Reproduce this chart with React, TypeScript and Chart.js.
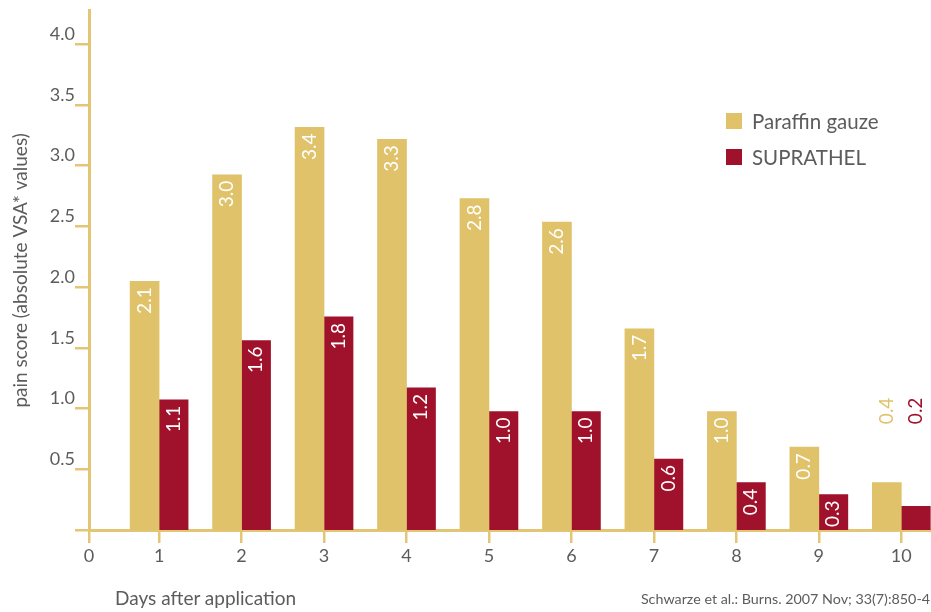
import React, { useEffect, useRef } from "react";
import { Chart, registerables } from "chart.js";

Chart.register(...registerables);

// ---- data ----
const days = [1, 2, 3, 4, 5, 6, 7, 8, 9, 10];
const paraffinValues = [2.1, 3.0, 3.4, 3.3, 2.8, 2.6, 1.7, 1.0, 0.7, 0.4];
const suprathelValues = [1.1, 1.6, 1.8, 1.2, 1.0, 1.0, 0.6, 0.4, 0.3, 0.2];
const seriesNames = ["Paraffin gauze", "SUPRATHEL"];
const originLabel = "0";
const xAxisTitle = "Days after application";
const yAxisTitle = "pain score (absolute VSA* values)";
const citation = "Schwarze et al.: Burns. 2007 Nov; 33(7):850-4";
const outsideLabelDays = [10];

// ---- style ----
const GOLD = "#E0C26A";
const RED = "#A0112B";
const AXIS = "#E3C675";
const TEXT = "#5c5c5c";
const FONT = "Lato, 'Open Sans', sans-serif";
const seriesColors = [GOLD, RED];

const X_MIN = 0.15;
const X_MAX = 10.36;
const Y_MAX = 4.275;
const BAR_SCALE_MAX = 4.385;
const OUTSIDE_LABEL_LEVEL = 1.09;

const barLabelPlugin = {
  id: "barLabels",
  afterDatasetsDraw(chart: any) {
    const ctx = chart.ctx;
    const yScale = chart.scales.y;
    const area = chart.chartArea;
    const seriesValues = [paraffinValues, suprathelValues];
    chart.data.datasets.forEach((ds: any, di: number) => {
      const meta = chart.getDatasetMeta(di);
      meta.data.forEach((bar: any, i: number) => {
        const v = seriesValues[di][i];
        const outside = outsideLabelDays.includes(days[i]);
        const yTop = outside ? yScale.getPixelForValue(OUTSIDE_LABEL_LEVEL) : bar.y + 6;
        const x = Math.min(bar.x, area.right - 13);
        ctx.save();
        ctx.translate(x, yTop);
        ctx.rotate(-Math.PI / 2);
        ctx.font = `19px ${FONT}`;
        ctx.fillStyle = outside ? seriesColors[di] : "#ffffff";
        ctx.textAlign = "right";
        ctx.textBaseline = "middle";
        ctx.fillText(v.toFixed(1), 0, 0);
        ctx.restore();
      });
    });
  },
};

export default function App() {
  const canvasRef = useRef<HTMLCanvasElement | null>(null);

  useEffect(() => {
    document.body.style.margin = "0";
    const canvas = canvasRef.current;
    if (!canvas) return;
    const chart = new Chart(canvas, {
      type: "bar",
      data: {
        datasets: [
          {
            label: seriesNames[0],
            data: days.map((d, i) => ({ x: d, y: paraffinValues[i] })),
            backgroundColor: GOLD,
            borderWidth: 0,
            yAxisID: "yb",
            barThickness: 29,
          },
          {
            label: seriesNames[1],
            data: days.map((d, i) => ({ x: d, y: suprathelValues[i] })),
            backgroundColor: RED,
            borderWidth: 0,
            yAxisID: "yb",
            barThickness: 29,
          },
        ] as any,
      },
      options: {
        animation: false,
        responsive: true,
        maintainAspectRatio: false,
        layout: { padding: { top: 10, left: 0, right: 0, bottom: 0 } },
        plugins: {
          legend: { display: false },
          tooltip: { enabled: false },
        },
        scales: {
          x: {
            type: "linear",
            min: X_MIN,
            max: X_MAX,
            offset: false,
            afterFit: (s: any) => {
              s.height = 82;
            },
            afterBuildTicks: (s: any) => {
              s.ticks = [{ value: X_MIN }, ...days.map((d) => ({ value: d }))];
            },
            ticks: {
              autoSkip: false,
              maxRotation: 0,
              padding: 2,
              color: TEXT,
              font: { family: FONT, size: 18 },
              callback: (v: any, idx: number) => (idx === 0 ? originLabel : String(v)),
            },
            grid: {
              drawOnChartArea: false,
              drawTicks: true,
              tickLength: 13,
              color: AXIS,
              lineWidth: 2.5,
              offset: false,
            },
            border: { color: AXIS, width: 3 },
          },
          y: {
            type: "linear",
            position: "left",
            min: 0,
            max: Y_MAX,
            afterFit: (s: any) => {
              s.width = 89;
            },
            ticks: {
              stepSize: 0.5,
              includeBounds: false,
              labelOffset: -10,
              padding: 0,
              color: TEXT,
              font: { family: FONT, size: 18 },
              callback: (v: any) => (v === 0 ? "" : Number(v).toFixed(1)),
            },
            grid: {
              drawOnChartArea: false,
              drawTicks: true,
              tickLength: 14,
              color: AXIS,
              lineWidth: 2.5,
            },
            border: { color: AXIS, width: 3 },
            title: {
              display: true,
              text: yAxisTitle,
              color: TEXT,
              font: { family: FONT, size: 19 },
              padding: { top: 9, bottom: 0 },
            },
          },
          yb: {
            type: "linear",
            position: "left",
            display: false,
            min: 0,
            max: BAR_SCALE_MAX,
          },
        } as any,
      },
      plugins: [barLabelPlugin],
    });
    return () => chart.destroy();
  }, []);

  return (
    <div
      style={{
        position: "absolute",
        left: 0,
        top: 0,
        width: 931,
        height: 612,
        background: "#ffffff",
        fontFamily: FONT,
        color: TEXT,
        overflow: "hidden",
      }}
    >
      <canvas ref={canvasRef} />
      {seriesNames.map((name, i) => (
        <div
          key={name}
          style={{
            position: "absolute",
            left: 726,
            top: 111 + i * 36,
            height: 20,
            display: "flex",
            alignItems: "center",
            whiteSpace: "nowrap",
          }}
        >
          <div style={{ width: 16, height: 16, background: seriesColors[i], marginRight: 10 }} />
          <span style={{ fontSize: 20.5, lineHeight: "20px" }}>{name}</span>
        </div>
      ))}
      <div
        style={{
          position: "absolute",
          left: 115,
          top: 587,
          fontSize: 19,
          lineHeight: "22px",
          whiteSpace: "nowrap",
        }}
      >
        {xAxisTitle}
      </div>
      <div
        style={{
          position: "absolute",
          right: 1,
          top: 590,
          fontSize: 14.3,
          lineHeight: "18px",
          whiteSpace: "nowrap",
        }}
      >
        {citation}
      </div>
    </div>
  );
}
